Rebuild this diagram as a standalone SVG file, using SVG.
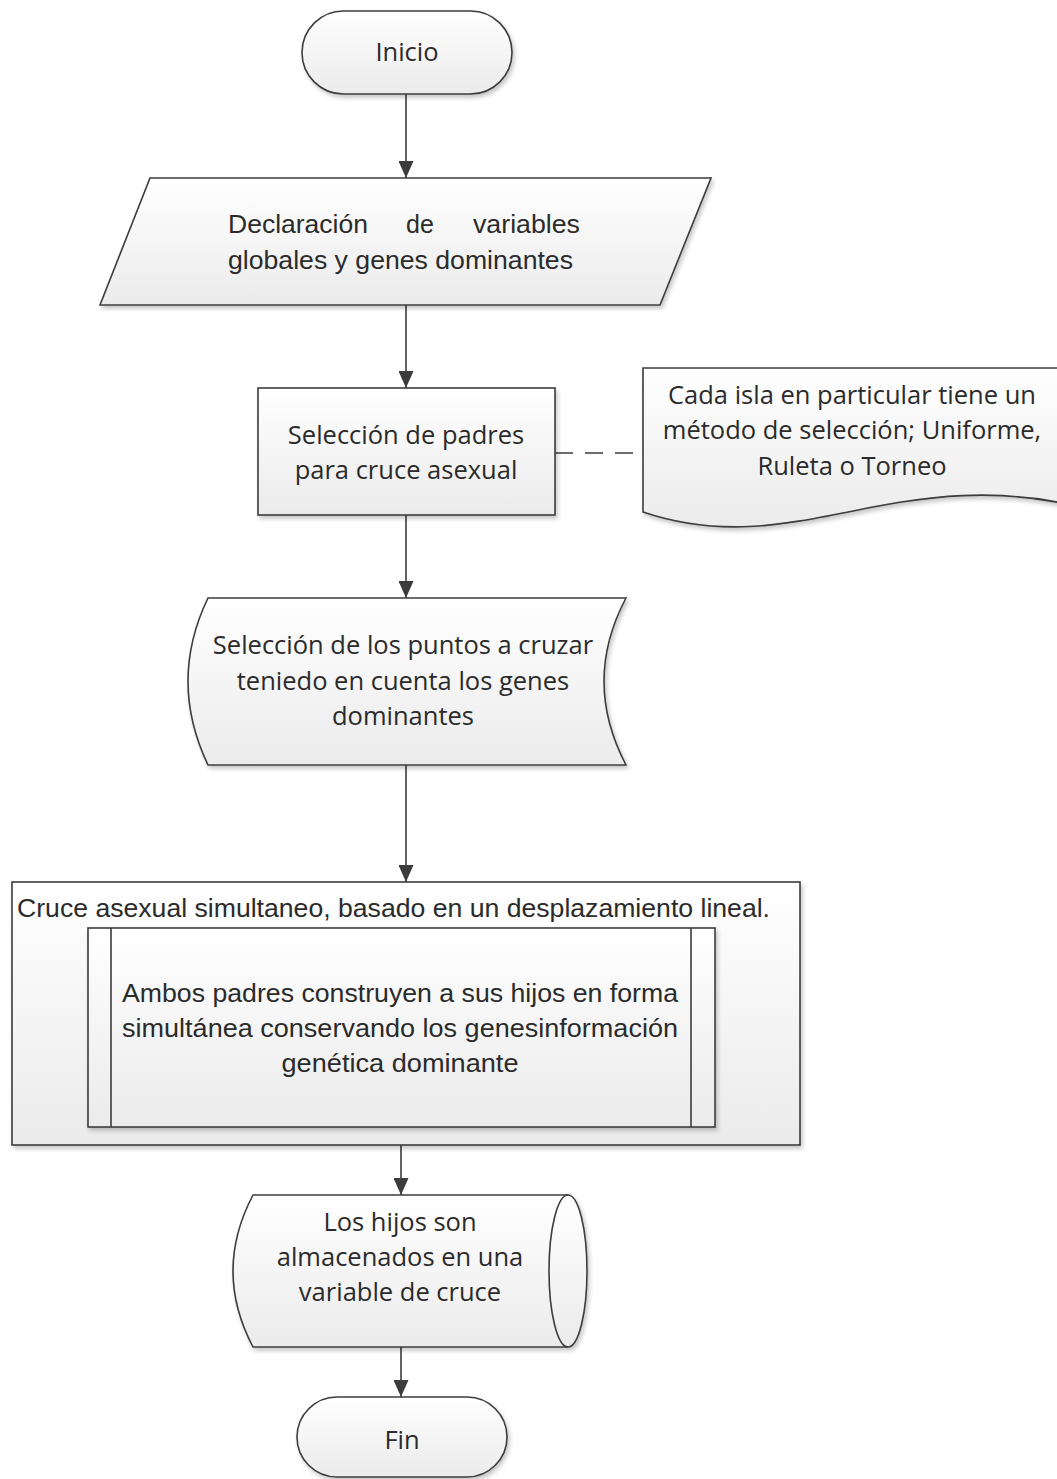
<svg xmlns="http://www.w3.org/2000/svg" width="1057" height="1479" viewBox="0 0 1057 1479">
  <style>
    .shape { fill: url(#fillGrad); stroke: #3c3c3c; stroke-width: 1.6; filter: url(#shadow); }
    .plain { fill: none; stroke: #3c3c3c; stroke-width: 1.6; }
    .conn { fill: none; stroke: #3c3c3c; stroke-width: 1.6; }
    .t { font-family: "Open Sans", "Liberation Sans", sans-serif; font-size: 25.5px; fill: #2b2b2b; text-anchor: middle; }
    .c { font-family: "Liberation Sans", "Open Sans", sans-serif; font-size: 25px; fill: #2b2b2b; }
  </style>
  <defs>
    <linearGradient id="fillGrad" x1="0" y1="0" x2="0" y2="1">
      <stop offset="0" stop-color="#ffffff"/>
      <stop offset="1" stop-color="#ebebeb"/>
    </linearGradient>
    <filter id="shadow" x="-10%" y="-10%" width="120%" height="130%">
      <feDropShadow dx="2" dy="3" stdDeviation="2" flood-color="#000" flood-opacity="0.22"/>
    </filter>
    <marker id="head" markerUnits="userSpaceOnUse" markerWidth="17" markerHeight="15" refX="17" refY="7.5" orient="auto" viewBox="0 0 17 15">
      <path d="M0,0 L17,7.5 L0,15 Z" fill="#3c3c3c"/>
    </marker>
  </defs>

  <rect width="1057" height="1479" fill="#ffffff"/>

  <!-- connectors -->
  <g id="connectors">
    <line class="conn" x1="406" y1="94" x2="406" y2="178" marker-end="url(#head)"/>
    <line class="conn" x1="406" y1="305" x2="406" y2="388" marker-end="url(#head)"/>
    <line class="conn" x1="555" y1="453" x2="643" y2="453" stroke-dasharray="18 12"/>
    <line class="conn" x1="406" y1="515" x2="406" y2="598" marker-end="url(#head)"/>
    <line class="conn" x1="406" y1="765" x2="406" y2="882" marker-end="url(#head)"/>
    <line class="conn" x1="401" y1="1127" x2="401" y2="1195" marker-end="url(#head)"/>
    <line class="conn" x1="401" y1="1347" x2="401" y2="1397" marker-end="url(#head)"/>
  </g>

  <!-- start terminal -->
  <g id="inicio">
    <rect class="shape" x="302" y="11" width="210" height="83" rx="41.5" ry="41.5"/>
    <text class="t" x="407" y="61">Inicio</text>
  </g>

  <!-- data input -->
  <g id="declaracion">
    <polygon class="shape" points="150,178 711,178 660,305 100,305"/>
    <text class="c" x="228" y="233" textLength="140" lengthAdjust="spacingAndGlyphs">Declaración</text>
    <text class="c" x="420" y="233" text-anchor="middle">de</text>
    <text class="c" x="473" y="233" textLength="107" lengthAdjust="spacingAndGlyphs">variables</text>
    <text class="c" x="228" y="269" textLength="345" lengthAdjust="spacingAndGlyphs">globales y genes dominantes</text>
  </g>

  <!-- process -->
  <g id="seleccion-padres">
    <rect class="shape" x="258" y="388" width="297" height="127"/>
    <text class="t" x="406" y="444">Selección de padres</text>
    <text class="t" x="406" y="479">para cruce asexual</text>
  </g>

  <!-- annotation document -->
  <g id="nota-seleccion">
    <path class="shape" d="M643,368 L1100,368 L1100,512 C900,455 800,565 643,512 Z"/>
    <text class="t" x="852" y="404">Cada isla en particular tiene un</text>
    <text class="t" x="852" y="439">método de selección; Uniforme,</text>
    <text class="t" x="852" y="475">Ruleta o Torneo</text>
  </g>

  <!-- stored data -->
  <g id="seleccion-puntos">
    <path class="shape" d="M208,598 L626,598 Q582,681 626,765 L208,765 Q168,681 208,598 Z"/>
    <text class="t" x="403" y="654">Selección de los puntos a cruzar</text>
    <text class="t" x="403" y="690">teniedo en cuenta los genes</text>
    <text class="t" x="403" y="725">dominantes</text>
  </g>

  <!-- container with predefined process -->
  <g id="cruce-asexual">
    <rect class="shape" x="12" y="882" width="788" height="263"/>
    <text class="c" x="17" y="917" textLength="753" lengthAdjust="spacingAndGlyphs">Cruce asexual simultaneo, basado en un desplazamiento lineal.</text>
    <rect class="shape" x="88" y="928" width="627" height="199"/>
    <line class="plain" x1="111" y1="928" x2="111" y2="1127"/>
    <line class="plain" x1="691" y1="928" x2="691" y2="1127"/>
    <text class="c" x="400" y="1002" text-anchor="middle" textLength="556" lengthAdjust="spacingAndGlyphs">Ambos padres construyen a sus hijos en forma</text>
    <text class="c" x="400" y="1037" text-anchor="middle" textLength="556" lengthAdjust="spacingAndGlyphs">simultánea conservando los genesinformación</text>
    <text class="c" x="400" y="1072" text-anchor="middle" textLength="237" lengthAdjust="spacingAndGlyphs">genética dominante</text>
  </g>

  <!-- direct access storage -->
  <g id="almacenamiento">
    <path class="shape" d="M253,1195 L568,1195 A19,76 0 0 1 568,1347 L253,1347 Q213,1271 253,1195 Z"/>
    <path class="plain" d="M568,1195 A19,76 0 0 0 568,1347"/>
    <text class="t" x="400" y="1231">Los hijos son</text>
    <text class="t" x="400" y="1266">almacenados en una</text>
    <text class="t" x="400" y="1301">variable de cruce</text>
  </g>

  <!-- end terminal -->
  <g id="fin">
    <rect class="shape" x="297" y="1397" width="210" height="80" rx="40" ry="40"/>
    <text class="t" x="402" y="1449">Fin</text>
  </g>
</svg>
